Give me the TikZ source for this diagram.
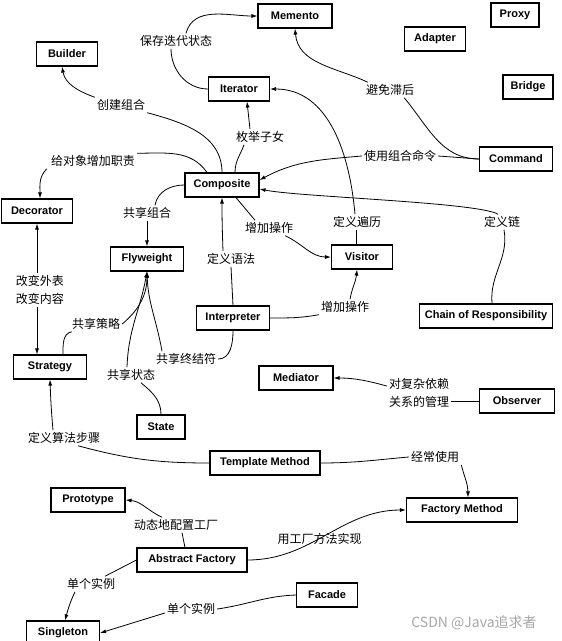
\documentclass[tikz,border=0pt]{standalone}
\usepackage{fontspec}
\setsansfont{Liberation Sans}
\newfontfamily\cjk{Noto Sans CJK SC}
\usetikzlibrary{arrows.meta}

\begin{document}
\begin{tikzpicture}[x=1pt, y=1pt,
  dpbox/.style={draw, line width=1.1pt, fill=white, font=\sffamily\bfseries\fontsize{11}{13}\selectfont,
    inner xsep=5pt, minimum height=24pt, minimum width=61pt},
  lbl/.style={font=\cjk\fontsize{12}{18}\selectfont, inner sep=2pt, align=center},
  link/.style={line width=0.8pt},
  arr/.style={link, -{Latex[length=6pt,width=4pt]}}]
\clip (0,0) rectangle (562,-641);

% Pattern boxes
\node[dpbox, minimum width=74pt] (memento) at (295,-16) {Memento};
\node[dpbox, minimum width=48pt] (proxy) at (515,-15) {Proxy};
\node[dpbox] (adapter) at (435,-39) {Adapter};
\node[dpbox, minimum width=50pt] (bridge) at (528,-87) {Bridge};
\node[dpbox] (builder) at (67,-54) {Builder};
\node[dpbox] (iterator) at (239,-89) {Iterator};
\node[dpbox, minimum width=73pt] (command) at (516,-159) {Command};
\node[dpbox, minimum width=74pt] (composite) at (222,-185) {Composite};
\node[dpbox, minimum width=71pt] (decorator) at (37,-211) {Decorator};
\node[dpbox, minimum width=73pt] (flyweight) at (147,-259) {Flyweight};
\node[dpbox] (visitor) at (362,-257) {Visitor};
\node[dpbox, minimum width=73pt] (interpreter) at (233,-318) {Interpreter};
\node[dpbox] (chain) at (486,-316) {Chain of Responsibility};
\node[dpbox, minimum width=73pt] (strategy) at (50,-367) {Strategy};
\node[dpbox, minimum width=74pt] (mediator) at (296,-378) {Mediator};
\node[dpbox, minimum width=75pt] (observer) at (517,-401) {Observer};
\node[dpbox, minimum width=48pt] (state) at (161,-427) {State};
\node[dpbox, minimum width=110pt] (template) at (265,-463) {Template Method};
\node[dpbox, minimum width=74pt] (prototype) at (88,-500) {Prototype};
\node[dpbox, minimum width=111pt] (factorymethod) at (462,-510) {Factory Method};
\node[dpbox, minimum width=110pt] (abstractfactory) at (192,-560) {Abstract Factory};
\node[dpbox] (facade) at (327,-595) {Facade};
\node[dpbox, minimum width=73pt] (singleton) at (63,-633) {Singleton};

% Relation labels
\node[lbl] (lSave) at (176,-41) {保存迭代状态};
\node[lbl] (lBuild) at (121,-105) {创建组合};
\node[lbl] (lEnum) at (260,-137) {枚举子女};
\node[lbl] (lLag) at (390,-90) {避免滞后};
\node[lbl] (lDuty) at (93,-161) {给对象增加职责};
\node[lbl] (lCmd) at (400,-156) {使用组合命令};
\node[lbl] (lShareComp) at (147,-213) {共享组合};
\node[lbl] (lAddOp) at (269,-228) {增加操作};
\node[lbl] (lTraverse) at (357,-222) {定义遍历};
\node[lbl] (lChain) at (502,-222) {定义链};
\node[lbl] (lGrammar) at (231,-259) {定义语法};
\node[lbl] (lChange) at (40,-290) {改变外表\\改变内容};
\node[lbl] (lShareStrat) at (96,-324) {共享策略};
\node[lbl] (lAddOp2) at (345,-307) {增加操作};
\node[lbl] (lShareTerm) at (186,-359) {共享终结符};
\node[lbl] (lShareState) at (131,-375) {共享状态};
\node[lbl] (lManage) at (419,-393) {对复杂依赖\\关系的管理};
\node[lbl] (lAlgo) at (64,-438) {定义算法步骤};
\node[lbl] (lOften) at (435,-457) {经常使用};
\node[lbl] (lDynamic) at (176,-525) {动态地配置工厂};
\node[lbl] (lSingle) at (91,-584) {单个实例};
\node[lbl] (lSingle2) at (191,-609) {单个实例};

% Connectors
\draw[link] (iterator.west) to[out=180,in=-90] ([xshift=-5pt]lSave.south);
\draw[arr] ([xshift=10pt]lSave.north) to[out=75,in=180] (memento.west);

\draw[link] (composite.north) to[out=90,in=-15] (lBuild.south east);
\draw[arr] (lBuild.north west) to[out=160,in=-80] ([xshift=-5pt]builder.south);

\draw[link] ([xshift=13pt]composite.north) to[out=90,in=-110] ([xshift=-16pt]lEnum.south);
\draw[arr] ([xshift=-10pt]lEnum.north) -- ([xshift=8pt]iterator.south);

\draw[link] (command.west) to[out=180,in=-50] ([xshift=-12pt]lLag.south east);
\draw[arr] ([xshift=4pt]lLag.north west) to[out=155,in=-85] (memento.south);

\draw[link] (command.west) -- (lCmd.east);
\draw[arr] (lCmd.west) to[out=185,in=28] ([yshift=5pt]composite.east);

\draw[link] ([xshift=6pt]chain.north) to[out=95,in=-80] ([xshift=2pt]lChain.south);
\draw[arr] ([xshift=-4pt]lChain.north) .. controls +(-20,12) and +(40,-8) .. ([yshift=-4pt]composite.east);

\draw[link] ([xshift=-15pt]composite.north) to[out=125,in=0] (lDuty.north east);
\draw[arr] ([xshift=-2pt]lDuty.south west) to[out=-135,in=90] ([xshift=3pt]decorator.north);

\draw[link] (composite.west) to[out=180,in=80] ([xshift=8pt]lShareComp.north);
\draw[arr] (lShareComp.south) -- (flyweight.north);

\draw[link] ([xshift=14pt]composite.south) -- ([xshift=-14pt]lAddOp.north);
\draw[arr] ([xshift=-10pt]lAddOp.south east) to[out=-25,in=180] (visitor.west);

\draw[link] ([xshift=-6pt]visitor.north) -- ([xshift=-1pt]lTraverse.south);
\draw[arr] ([xshift=-2pt]lTraverse.north) to[out=95,in=0] (iterator.east);

\draw[link] (interpreter.north) -- (lGrammar.south);
\draw[arr] ([xshift=-8pt]lGrammar.north) to[out=92,in=-90] (composite.south);

\draw[link] (interpreter.east) to[out=0,in=190] (lAddOp2.south west);
\draw[arr] ([xshift=5pt]lAddOp2.north) to[out=80,in=-95] ([xshift=-5pt]visitor.south);

\draw[link] (interpreter.south) to[out=-90,in=0] (lShareTerm.east);
\draw[arr] ([xshift=-24pt]lShareTerm.north) to[out=100,in=-88] (flyweight.south);

\draw[arr] (decorator.south |- lChange.north) -- (decorator.south);
\draw[arr] (decorator.south |- lChange.south) -- (decorator.south |- strategy.north);

\draw[link] ([xshift=13pt]strategy.north) to[out=90,in=190] ([xshift=2pt]lShareStrat.south west);
\draw[arr] (lShareStrat.east) to[out=40,in=-90] (flyweight.south);

\draw[link] (state.north) to[out=90,in=-40] ([xshift=10pt]lShareState.south);
\draw[arr] ([xshift=-4pt]lShareState.north) to[out=88,in=-100] (flyweight.south);

\draw[link] (observer.west) -- (observer.west -| lManage.east);
\draw[arr] ([yshift=7pt]lManage.west) to[out=165,in=0] (mediator.east);

\draw[link] (template.west) to[out=180,in=-15] ([xshift=14pt]lAlgo.south);
\draw[arr] ([xshift=-11pt]lAlgo.north) to[out=95,in=-88] (strategy.south);

\draw[link] (template.east) to[out=0,in=185] (lOften.west);
\draw[arr] (lOften.south east) to[out=-75,in=90] ([xshift=6pt]factorymethod.north);

\draw[link] ([xshift=-7pt]abstractfactory.north) -- ([xshift=6pt]lDynamic.south);
\draw[arr] ([xshift=-14pt]lDynamic.north) to[out=155,in=-5] (prototype.east);

\draw[arr] (abstractfactory.east) to[out=0,in=180]
  node[lbl, pos=0.45] (lFactory) {用工厂方法实现} (factorymethod.west);

\draw[link] (abstractfactory.west) -- ([xshift=14pt]lSingle.north);
\draw[arr] ([xshift=-16pt]lSingle.south) to[out=-115,in=75] ([xshift=2pt]singleton.north);

\draw[link] (facade.west) to[out=182,in=8] (lSingle2.east);
\draw[arr] ([yshift=-4pt]lSingle2.west) -- (singleton.east);

% Watermark
\node[font=\cjk\fontsize{14}{16}\selectfont, text=black!35] (mark) at (474,-623) {CSDN @Java追求者};
\end{tikzpicture}
\end{document}
